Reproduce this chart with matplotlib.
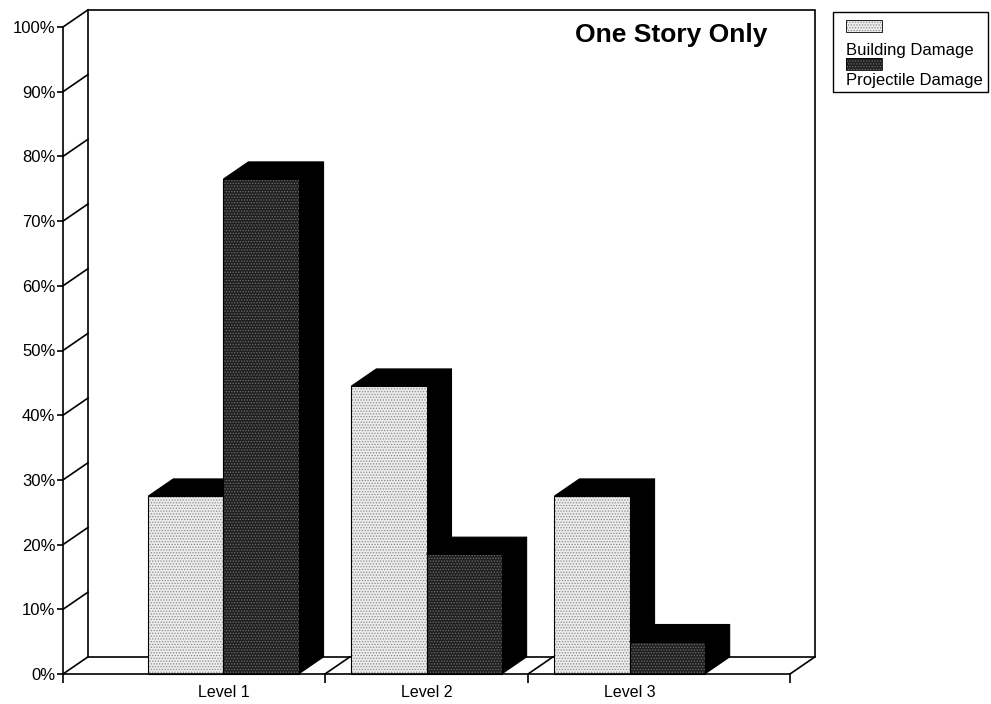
import matplotlib.pyplot as plt
from matplotlib.patches import Polygon, Rectangle

plt.rcParams['font.family'] = ['Liberation Sans', 'DejaVu Sans']
plt.rcParams['hatch.linewidth'] = 0.6

levels = ['Level 1', 'Level 2', 'Level 3']
building = [27.5, 44.5, 27.5]
projectile = [76.5, 18.5, 5.0]
series = ['Building Damage', 'Projectile Damage']
y_ticks = list(range(0, 101, 10))

W, H = 991, 704
fig = plt.figure(figsize=(W / 100, H / 100), dpi=100)
fig.patch.set_facecolor('white')
ax = fig.add_axes([63 / W, (H - 674) / H, (790 - 63) / W, (674 - 27) / H])

x_lo, x_hi = -0.79, 2.79
ax.set_xlim(x_lo, x_hi)
ax.set_ylim(0, 100)
bar_w = 0.37
dx, dy = 0.123, 2.65   # oblique depth offset
lw = 1.2

styles = {
    'Building Damage': dict(face='#ececec', hatch='......', hatch_col='#8a8a8a'),
    'Projectile Damage': dict(face='#202020', hatch='......', hatch_col='#6e6e6e'),
}

# back wall and side wall
ax.add_patch(Rectangle((x_lo + dx, dy), x_hi - x_lo, 100, facecolor='white',
                       edgecolor='black', lw=lw, clip_on=False, zorder=1))
for t in y_ticks:
    ax.plot([x_lo, x_lo + dx], [t, t + dy], color='black', lw=lw, clip_on=False, zorder=2)

# floor
for xb in [0.5, 1.5, x_hi]:
    ax.plot([xb, xb + dx], [0, dy], color='black', lw=lw, clip_on=False, zorder=2)


def draw_box(x0, h, st, z):
    front = [(x0, 0), (x0 + bar_w, 0), (x0 + bar_w, h), (x0, h)]
    top = [(x0, h), (x0 + bar_w, h), (x0 + bar_w + dx, h + dy), (x0 + dx, h + dy)]
    side = [(x0 + bar_w, 0), (x0 + bar_w + dx, dy), (x0 + bar_w + dx, h + dy), (x0 + bar_w, h)]
    for pts in (side, top):
        ax.add_patch(Polygon(pts, closed=True, facecolor='black', edgecolor='black',
                             lw=0.8, clip_on=False, zorder=z))
    ax.add_patch(Polygon(front, closed=True, facecolor=st['face'], hatch=st['hatch'],
                         edgecolor=st['hatch_col'], lw=0, clip_on=False, zorder=z + 0.1))
    ax.add_patch(Polygon(front, closed=True, fill=False, edgecolor='black',
                         lw=0.8, clip_on=False, zorder=z + 0.2))


z = 3
for i in range(len(levels)):
    draw_box(i - bar_w, building[i], styles[series[0]], z)
    draw_box(i, projectile[i], styles[series[1]], z + 1)
    z += 2

for side in ['top', 'right']:
    ax.spines[side].set_visible(False)
for side in ['left', 'bottom']:
    ax.spines[side].set_linewidth(lw)
    ax.spines[side].set_zorder(20)

ax.set_yticks(y_ticks)
ax.set_yticklabels([f'{t}%' for t in y_ticks], fontsize=12)
ax.tick_params(axis='y', length=4.5, width=lw, pad=1)

ax.set_xticks([x_lo, 0.5, 1.5, x_hi])
ax.set_xticklabels([])
ax.tick_params(axis='x', which='major', length=6.5, width=lw)
ax.set_xticks(range(len(levels)), minor=True)
ax.set_xticklabels(levels, minor=True, fontsize=11.5)
ax.tick_params(axis='x', which='minor', length=0, pad=8)

fig.text(671 / W, 1 - 35 / H, 'One Story Only', ha='center', va='center',
         fontsize=19, fontweight='bold')

# legend: swatch above each label
fig.add_artist(Rectangle((833 / W, 1 - 92 / H), (988 - 833) / W, 80 / H,
                         transform=fig.transFigure, fill=False, edgecolor='black', lw=1))
for name, py, ty in [(series[0], 20, 50), (series[1], 58, 81)]:
    st = styles[name]
    fig.add_artist(Rectangle((846 / W, 1 - (py + 12) / H), 36 / W, 12 / H,
                             transform=fig.transFigure, facecolor=st['face'],
                             hatch=st['hatch'], edgecolor=st['hatch_col'], lw=0))
    fig.add_artist(Rectangle((846 / W, 1 - (py + 12) / H), 36 / W, 12 / H,
                             transform=fig.transFigure, fill=False, edgecolor='black', lw=0.6))
    fig.text(846 / W, 1 - ty / H, name, ha='left', va='center', fontsize=12)

fig.savefig('out.png', dpi=100, facecolor='white')
